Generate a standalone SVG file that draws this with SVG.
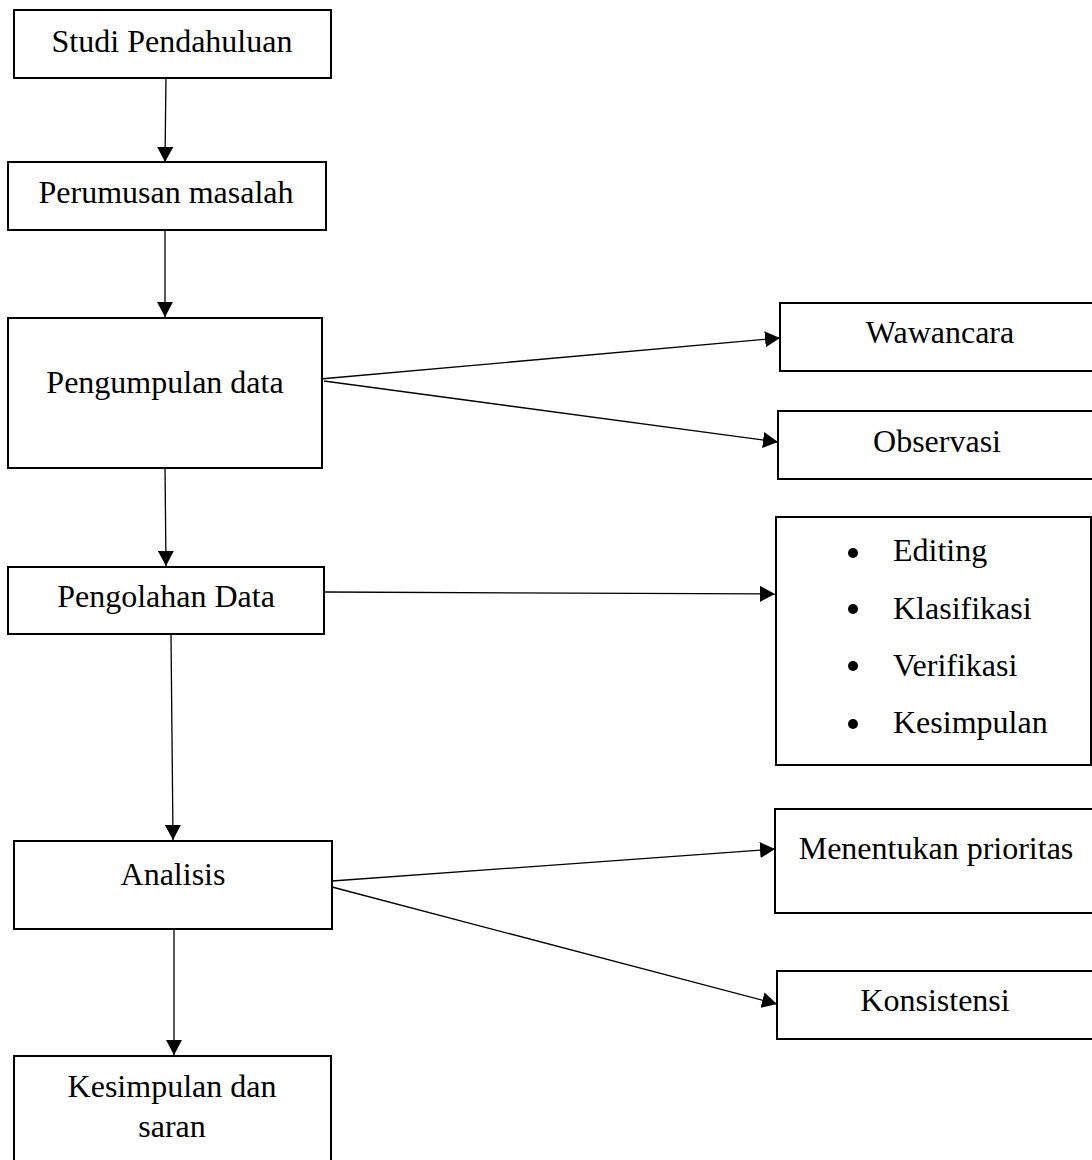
<svg xmlns="http://www.w3.org/2000/svg" width="1092" height="1160" viewBox="0 0 1092 1160">
<style>
.box{fill:#fff;stroke:#000;stroke-width:2}
.t{font-family:"Liberation Serif","Times New Roman",serif;font-size:32px;fill:#000}
.c{text-anchor:middle}
.ln{fill:none;stroke:#000;stroke-width:1.3;marker-end:url(#ah)}
</style>
<defs>
<marker id="ah" markerUnits="userSpaceOnUse" markerWidth="16" markerHeight="16" refX="15" refY="8" orient="auto">
<path d="M0,0 L15,8 L0,16 Z" fill="#000"/>
</marker>
</defs>
<rect width="1092" height="1160" fill="#fff"/>
<g id="connectors">
<line class="ln" x1="166" y1="74" x2="165" y2="162"/>
<line class="ln" x1="165" y1="230" x2="165" y2="317"/>
<line class="ln" x1="165" y1="468" x2="166" y2="566"/>
<line class="ln" x1="171" y1="634" x2="173" y2="840"/>
<line class="ln" x1="174" y1="929" x2="174" y2="1055"/>
<line class="ln" x1="320" y1="379" x2="780" y2="338"/>
<line class="ln" x1="324" y1="381" x2="778" y2="442"/>
<line class="ln" x1="325" y1="592" x2="775" y2="594"/>
<line class="ln" x1="332" y1="881" x2="775" y2="849"/>
<line class="ln" x1="332" y1="887" x2="777" y2="1004"/>
</g>
<g id="n1"><rect class="box" x="14" y="10" width="317" height="68"/><text class="t c" x="172" y="52">Studi Pendahuluan</text></g>
<g id="n2"><rect class="box" x="8" y="162" width="318" height="68"/><text class="t c" x="166" y="203">Perumusan masalah</text></g>
<g id="n3"><rect class="box" x="8" y="318" width="314" height="150"/><text class="t c" x="165" y="393">Pengumpulan data</text></g>
<g id="n4"><rect class="box" x="8" y="567" width="316" height="67"/><text class="t c" x="166" y="607">Pengolahan Data</text></g>
<g id="n5"><rect class="box" x="14" y="841" width="318" height="88"/><text class="t c" x="173" y="885">Analisis</text></g>
<g id="n6"><rect class="box" x="14" y="1056" width="317" height="120"/><text class="t c" x="172" y="1097">Kesimpulan dan</text><text class="t c" x="172" y="1137">saran</text></g>
<g id="n7"><rect class="box" x="780" y="303" width="320" height="68"/><text class="t c" x="940" y="343">Wawancara</text></g>
<g id="n8"><rect class="box" x="778" y="411" width="322" height="68"/><text class="t c" x="937" y="452">Observasi</text></g>
<g id="n9"><rect class="box" x="776" y="517" width="315" height="248"/>
<circle cx="853" cy="553" r="5"/><text class="t" x="893" y="561">Editing</text>
<circle cx="853" cy="609" r="5"/><text class="t" x="893" y="619">Klasifikasi</text>
<circle cx="853" cy="666" r="5"/><text class="t" x="893" y="676">Verifikasi</text>
<circle cx="853" cy="724" r="5"/><text class="t" x="893" y="733">Kesimpulan</text>
</g>
<g id="n10"><rect class="box" x="775" y="809" width="325" height="104"/><text class="t c" x="936" y="859">Menentukan prioritas</text></g>
<g id="n11"><rect class="box" x="777" y="971" width="323" height="68"/><text class="t c" x="935" y="1011">Konsistensi</text></g>
</svg>
